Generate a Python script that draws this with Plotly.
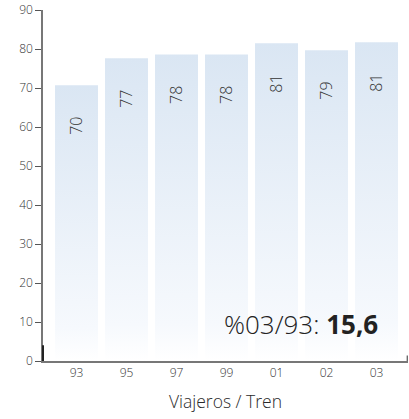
import plotly.graph_objects as go

years = ["93", "95", "97", "99", "01", "02", "03"]
values = [70.7, 77.6, 78.6, 78.6, 81.5, 79.7, 81.7]
labels = ["70", "77", "78", "78", "81", "79", "81"]
y_ticks = [0, 10, 20, 30, 40, 50, 60, 70, 80, 90]
x_title = "Viajeros / Tren"
note_text = "%03/93: <b>15,6</b>"

BAR_HALF = 0.43
FONT = "Open Sans, Noto Sans, sans-serif"

fig = go.Figure()
for i, v in enumerate(values):
    fig.add_trace(go.Scatter(
        x=[i - BAR_HALF, i + BAR_HALF, i + BAR_HALF, i - BAR_HALF, i - BAR_HALF],
        y=[0, 0, v, v, 0],
        mode="lines",
        line=dict(width=0),
        fill="toself",
        fillgradient=dict(type="vertical", start=0, stop=v,
                          colorscale=[[0, "#ffffff"], [0.12, "#f6f9fd"], [1, "#dae6f3"]]),
        hoverinfo="skip",
        showlegend=False,
    ))
    fig.add_annotation(x=i, y=v, text=labels[i], textangle=-90, showarrow=False,
                       yshift=-41, font=dict(family=FONT, size=16, color="#333333", weight=300))

fig.add_annotation(xref="paper", yref="paper", x=0.922, y=0.104, xanchor="right", yanchor="middle",
                   text=note_text, showarrow=False,
                   font=dict(family=FONT, size=26, color="#222222", weight=300))

# right-end tick of the x axis
fig.add_shape(type="line", xref="paper", yref="paper", x0=0.998, x1=0.998, y0=0, y1=0.016,
              line=dict(color="#555555", width=1.2))
# darker base segment of y axis
fig.add_shape(type="line", xref="paper", yref="paper", x0=0, x1=0, y0=0, y1=0.045,
              line=dict(color="#222222", width=2))

fig.update_layout(
    width=409, height=419,
    margin=dict(l=43, r=1, t=10, b=58),
    paper_bgcolor="white", plot_bgcolor="white",
    font=dict(family=FONT, color="#333333"),
    xaxis=dict(
        range=[-0.67, 6.63], tickvals=list(range(len(years))), ticktext=years,
        showgrid=False, zeroline=False, showline=True, linecolor="#777777", linewidth=1.5,
        ticks="", tickfont=dict(size=12, color="#333333", weight=300),
        title=dict(text=x_title, font=dict(size=17.5, color="#2a2a2a", weight=300), standoff=16),
    ),
    yaxis=dict(
        range=[0, 90], tickvals=y_ticks, showgrid=False, zeroline=False,
        showline=True, linecolor="#777777", linewidth=1.5,
        ticks="outside", ticklen=6, tickcolor="#555555", tickwidth=1,
        tickfont=dict(size=12, color="#333333", weight=300),
    ),
)

fig.write_html("out.html", config={"displayModeBar": False},
               post_script="document.body.style.margin='0';document.body.style.overflow='hidden';")
